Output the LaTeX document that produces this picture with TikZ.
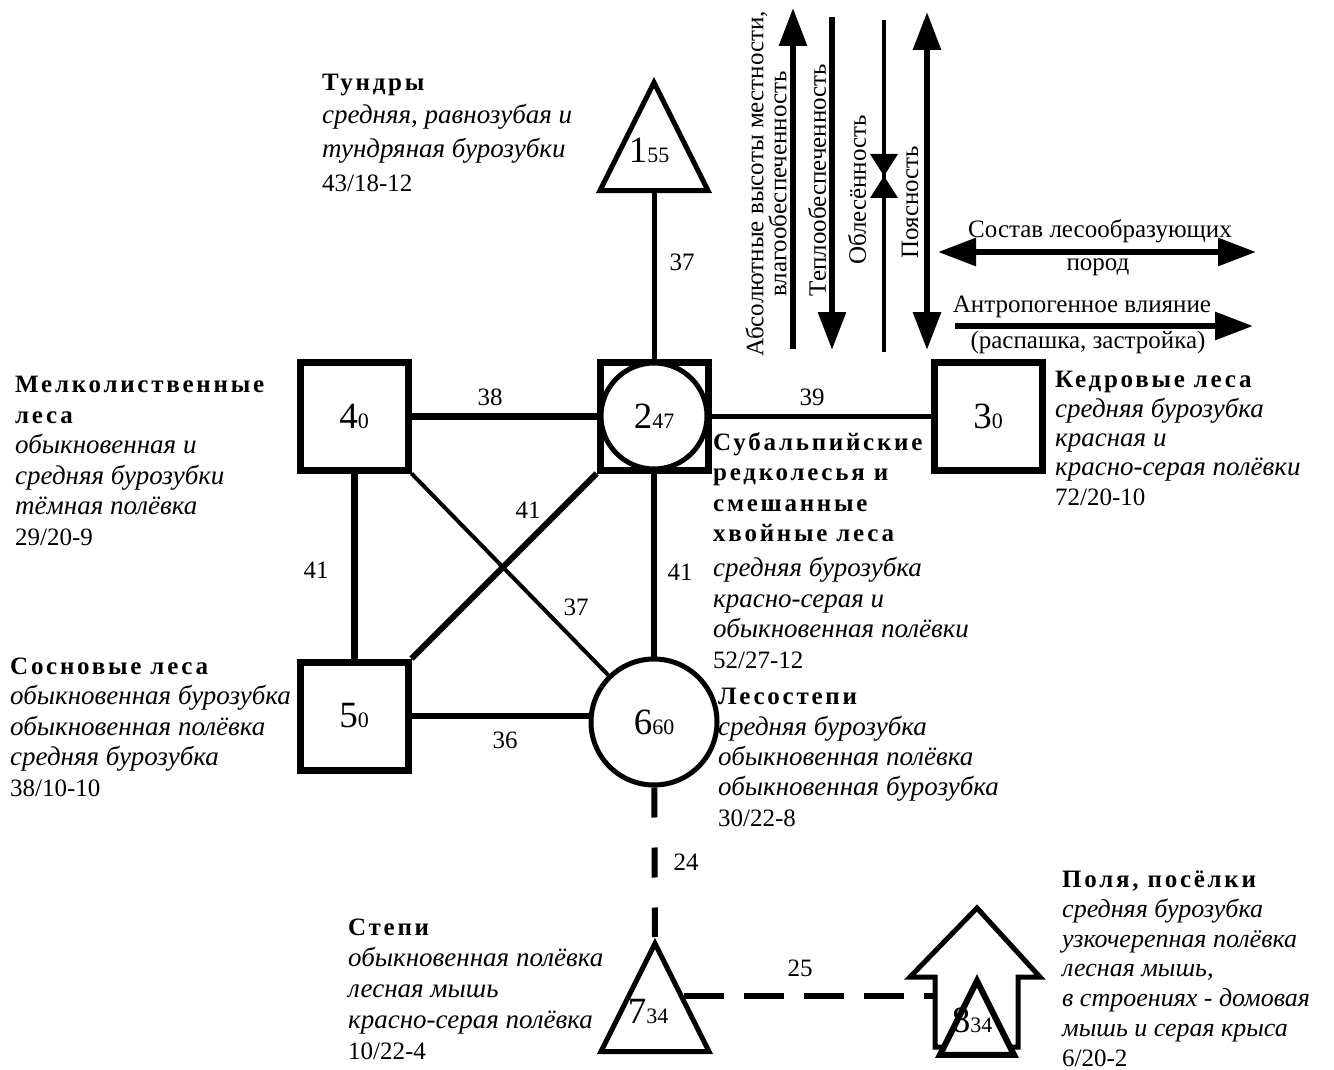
\documentclass[tikz,border=0pt]{standalone}
\usepackage{fontspec}
\setmainfont{Liberation Serif}
\newfontfamily\ttlfont{Liberation Serif}[LetterSpace=11]
\usepackage{tikz}
\usetikzlibrary{arrows.meta,calc}
\usetikzlibrary{shapes.geometric}

\newcommand{\nlbl}[2]{{\fontsize{37}{37}\selectfont #1}{\fontsize{22}{22}\selectfont #2}}
\newcommand{\ttl}[1]{{\ttlfont\bfseries #1}}
\newcommand{\spc}[1]{{\fontsize{27}{30}\selectfont\itshape #1}}
\newcommand{\spcs}[1]{{\fontsize{26}{30}\selectfont\itshape #1}}

\tikzset{
  bx/.style={draw, line width=7pt, minimum size=108pt, inner sep=0pt, fill=white},
  cr/.style={draw, circle, line width=5pt, inner sep=0pt, fill=white},
  tri/.style={draw, isosceles triangle, isosceles triangle stretches,
              shape border rotate=90, line width=5pt, inner sep=0pt,
              minimum width=108pt, minimum height=108pt, fill=white},
  lbl/.style={font=\fontsize{25}{25}\selectfont, inner sep=0pt},
  txt/.style={align=left, anchor=base west, inner sep=0pt},
  fa/.style={line width=6pt, -{Triangle[length=38pt,width=27pt]}},
  fb/.style={line width=6pt, {Triangle[length=38pt,width=27pt]}-{Triangle[length=38pt,width=27pt]}},
}

\begin{document}
\begin{tikzpicture}[x=1pt, y=-1pt]
  \useasboundingbox (0,0) rectangle (1334,1070);

  % узлы
  \node[tri, anchor=apex] (n1) at (654,76) {};
  \node[anchor=base] (n1l) at (649,163) {\nlbl{1}{55}};
  \node[bx] (n2) at (654,416) {};
  \node[cr, minimum size=106pt] (n2c) at (n2) {\nlbl{2}{47}};
  \node[bx] (n3) at (988,416) {\nlbl{3}{0}};
  \node[bx] (n4) at (354,416) {\nlbl{4}{0}};
  \node[bx] (n5) at (354,716) {\nlbl{5}{0}};
  \node[cr, minimum size=126pt] (n6) at (654,722) {\nlbl{6}{60}};
  \node[tri, anchor=apex] (n7) at (655,937) {};
  \node[anchor=base] (n7l) at (648,1023) {\nlbl{7}{34}};

  % дом
  \draw[line width=5pt] (910,977) -- (977,908) -- (1040,977) -- (1018,977)
    -- (1018,1047) -- (935,1047) -- (935,977) -- cycle;
  \coordinate (n8w) at (935,993);
  \node[tri, line width=6pt, minimum width=74pt, minimum height=74pt, anchor=apex] (n8) at (977,973) {};
  \node[anchor=base] (n8l) at (972,1032) {\nlbl{8}{34}};

  % связи
  \draw[line width=5pt] (n1) -- (n2) node[lbl] (e12) at (682,262) {37};
  \draw[line width=7pt] (n4) -- (n2) node[lbl] (e42) at (490,397) {38};
  \draw[line width=5pt] (n2) -- (n3) node[lbl] (e23) at (812,397) {39};
  \draw[line width=7pt] (n4) -- (n5) node[lbl] (e45) at (316,570) {41};
  \draw[line width=6pt] (n2) -- (n6) node[lbl] (e26) at (680,572) {41};
  \draw[line width=6pt] (n5.north east) -- (n2.south west) node[lbl] (e52) at (528,510) {41};
  \draw[line width=4pt] (n4.south east) -- (n6) node[lbl] (e46) at (576,607) {37};
  \draw[line width=6pt] (n5.east) -- (n5.east -| n6.west) node[lbl] (e56) at (505,740) {36};
  \draw[line width=6pt, dash pattern=on 30pt off 30pt] (n6) -- (n7.apex) node[lbl] (e67) at (686,862) {24};
  \draw[line width=6pt, dash pattern=on 40pt off 20pt] (n7.right side) -- (n7.right side -| n8w) node[lbl] (e78) at (800,968) {25};

  % факторы
  \coordinate (f1a) at (793,349);
  \coordinate (f1b) at (793,8);
  \coordinate (f2a) at (832,17);
  \coordinate (f2b) at (832,350);
  \coordinate (f3a) at (884,20);
  \coordinate (f3b) at (884,352);
  \coordinate (f4a) at (927,12);
  \coordinate (f4b) at (927,350);
  \coordinate (f5a) at (938,252);
  \coordinate (f5b) at (1256,252);
  \coordinate (f6a) at (955,326);
  \coordinate (f6b) at (1253,326);
  \draw[fa] (f1a) -- (f1b);
  \draw[fa] (f2a) -- (f2b);
  \draw[line width=4pt] (f3a) -- (f3b);
  \fill (870,154) -- (898,154) -- (884,176) -- cycle;
  \fill (870,198) -- (898,198) -- (884,176) -- cycle;
  \draw[fb] (f4a) -- (f4b);
  \draw[fb] (f5a) -- (f5b);
  \draw[fa] (f6a) -- (f6b);

  \node[lbl, rotate=90, align=center, font=\fontsize{25}{23}\selectfont] (t1) at (766,184)
    {Абсолютные высоты местности,\\влагообеспеченность};
  \node[lbl, rotate=90] (t2) at (817,180) {Теплообеспеченность};
  \node[lbl, rotate=90] (t3) at (857,190) {Облесённость};
  \node[lbl, rotate=90] (t4) at (910,202) {Поясность};
  \node[lbl] (t5) at (1100,231) {Состав лесообразующих};
  \node[lbl] (t6) at (1098,267) {пород};
  \node[lbl] (t7) at (1082,307) {Антропогенное влияние};
  \node[lbl] (t8) at (1088,342) {(распашка, застройка)};

  % подписи
  \node[txt, font=\fontsize{25}{33.5}\selectfont] (d1) at (322,191)
    {\ttl{Тундры}\\\spc{средняя, равнозубая и}\\\spc{тундряная бурозубки}\\43/18-12};
  \node[txt, font=\fontsize{25}{30.5}\selectfont] (d4) at (15,545)
    {\ttl{Мелколиственные}\\\ttl{леса}\\\spc{обыкновенная и}\\\spc{средняя бурозубки}\\\spc{тёмная полёвка}\\29/20-9};
  \node[txt, font=\fontsize{25}{30.5}\selectfont] (d5) at (10,796)
    {\ttl{Сосновые леса}\\\spc{обыкновенная бурозубка}\\\spc{обыкновенная полёвка}\\\spc{средняя бурозубка}\\38/10-10};
  \node[txt, font=\fontsize{25}{29.3}\selectfont] (d3) at (1055,505)
    {\ttl{Кедровые леса}\\\spc{средняя бурозубка}\\\spc{красная и}\\\spc{красно-серая полёвки}\\72/20-10};
  \node[txt, font=\fontsize{25}{30.5}\selectfont] (d2) at (713,668)
    {\ttl{Субальпийские}\\\ttl{редколесья и}\\\ttl{смешанные}\\\ttl{хвойные леса}\\[4.5pt]\spc{средняя бурозубка}\\\spc{красно-серая и}\\\spc{обыкновенная полёвки}\\52/27-12};
  \node[txt, font=\fontsize{25}{30.3}\selectfont] (d6) at (718,826)
    {\ttl{Лесостепи}\\\spc{средняя бурозубка}\\\spc{обыкновенная полёвка}\\\spc{обыкновенная бурозубка}\\30/22-8};
  \node[txt, font=\fontsize{25}{31}\selectfont] (d7) at (348,1059)
    {\ttl{Степи}\\\spc{обыкновенная полёвка}\\\spc{лесная мышь}\\\spc{красно-серая полёвка}\\10/22-4};
  \node[txt, font=\fontsize{25}{29.7}\selectfont] (d8) at (1062,1066)
    {\ttl{Поля, посёлки}\\\spcs{средняя бурозубка}\\\spcs{узкочерепная полёвка}\\\spcs{лесная мышь,}\\\spcs{в строениях - домовая}\\\spcs{мышь и серая крыса}\\6/20-2};
\end{tikzpicture}
\end{document}
